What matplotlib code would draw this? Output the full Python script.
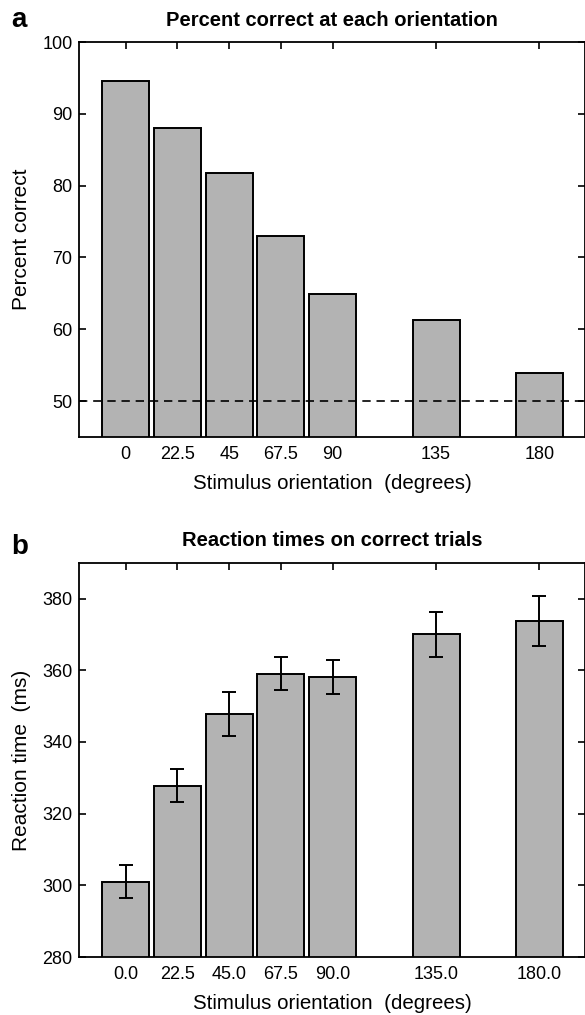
import matplotlib.pyplot as plt

plt.rcParams['font.family'] = ['Liberation Sans', 'DejaVu Sans']

orientations = [0, 22.5, 45, 67.5, 90, 135, 180]
labels_a = ['0', '22.5', '45', '67.5', '90', '135', '180']
labels_b = ['0.0', '22.5', '45.0', '67.5', '90.0', '135.0', '180.0']

pct_correct = [94.6, 88.1, 81.7, 73.0, 64.9, 61.3, 53.9]
chance = 50

rt_mean = [301.0, 327.8, 347.8, 359.0, 358.2, 370.0, 373.8]
rt_err = [4.6, 4.6, 6.0, 4.6, 4.7, 6.2, 6.9]

bar_w = 20.4
bar_color = '#b3b3b3'

fig = plt.figure(figsize=(5.85, 10.15), dpi=100)
ax1 = fig.add_axes([0.1356, 0.5695, 0.8644, 0.389])
ax2 = fig.add_axes([0.1356, 0.0571, 0.8644, 0.3885])


def style(ax):
    for s in ax.spines.values():
        s.set_linewidth(1.3)
    ax.tick_params(axis='x', which='both', bottom=False, top=True, direction='in',
                   length=5, width=1.2, labelsize=13, pad=6.5)
    ax.tick_params(axis='y', which='both', left=True, right=True, direction='in',
                   length=5, width=1.2, labelsize=13)
    # left ticks are short and outside
    for t in ax.yaxis.get_major_ticks():
        t.tick1line.set_markersize(2.5)
        t.tick1line.set_marker(0)
    ax.tick_params(axis='y', pad=5)
    ax.set_xlim(-20.2, 199.8)
    ax.set_xticks(orientations)


# panel a
ax1.bar(orientations, pct_correct, bar_w, color=bar_color, edgecolor='black', linewidth=1.4, zorder=2)
ax1.axhline(chance, color='black', linestyle=(0, (5, 3.5)), linewidth=1.2, zorder=3)
ax1.set_ylim(45, 100)
ax1.set_yticks([50, 60, 70, 80, 90, 100])
style(ax1)
ax1.set_xticklabels(labels_a)
ax1.set_xlabel('Stimulus orientation  (degrees)', fontsize=14.8, labelpad=8)
ax1.set_ylabel('Percent correct', fontsize=15, labelpad=8)
ax1.set_title('Percent correct at each orientation', fontsize=14.5, fontweight='bold', pad=11.7)
fig.text(0.02, 0.9737, 'a', fontsize=20, fontweight='bold', va='baseline')

# panel b
ax2.bar(orientations, rt_mean, bar_w, color=bar_color, edgecolor='black', linewidth=1.4, zorder=2)
ax2.errorbar(orientations, rt_mean, yerr=rt_err, fmt='none', ecolor='black',
             elinewidth=1.4, capsize=5, capthick=1.4, zorder=3)
ax2.set_ylim(280, 390)
ax2.set_yticks([280, 300, 320, 340, 360, 380])
style(ax2)
ax2.set_xticklabels(labels_b)
ax2.set_xlabel('Stimulus orientation  (degrees)', fontsize=14.8, labelpad=8)
ax2.set_ylabel('Reaction time  (ms)', fontsize=15, labelpad=8)
ax2.set_title('Reaction times on correct trials', fontsize=14.5, fontweight='bold', pad=12)
fig.text(0.02, 0.4542, 'b', fontsize=20, fontweight='bold', va='baseline')

fig.savefig('out.png', dpi=100)
